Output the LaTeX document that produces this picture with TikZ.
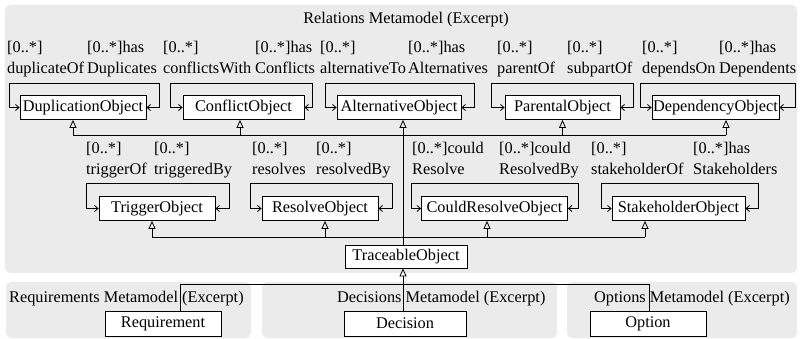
\documentclass[tikz,border=0pt]{standalone}
\usepackage{fontspec}
\setmainfont{Liberation Serif}
\usetikzlibrary{arrows.meta}
\definecolor{panel}{RGB}{235,235,235}
\begin{document}
\begin{tikzpicture}[x=1pt,y=-1pt,
  every node/.style={font=\fontsize{16.3}{20}\selectfont},
  cls/.style={draw, fill=white, line width=0.8pt, minimum height=24pt, inner sep=0pt},
  lbl/.style={anchor=base west, inner sep=0pt},
  panelbox/.style={fill=panel, rounded corners=5pt},
  selfloop/.style={line width=0.8pt, {Straight Barb[length=3.5pt,width=6pt]}-{Straight Barb[length=3.5pt,width=6pt]}},
  gen/.style={line width=0.8pt, -{Triangle[open,length=8pt,width=7pt]}},
  conn/.style={line width=0.8pt}]
\useasboundingbox (0,0) rectangle (801,339);
% panels
\fill[panelbox] (5,5) rectangle (797,273);
\fill[panelbox] (6,282) rectangle (251,338);
\fill[panelbox] (262,282) rectangle (557,338);
\fill[panelbox] (567,282) rectangle (797,338);
% titles
\node[anchor=base, inner sep=0pt] (title) at (406,24) {Relations Metamodel (Excerpt)};
\node[lbl] (reqt) at (9,302.5) {Requirements Metamodel (Excerpt)};
\node[lbl] (dect) at (337,302.5) {Decisions Metamodel (Excerpt)};
\node[lbl] (optt) at (594,302.5) {Options Metamodel (Excerpt)};
% row 1 classes
\node[cls, minimum width=126pt] (dup) at (83,107.5) {DuplicationObject};
\node[cls, minimum width=121pt] (con) at (243.5,107.5) {ConflictObject};
\node[cls, minimum width=124pt] (alt) at (399,107.5) {AlternativeObject};
\node[cls, minimum width=115pt] (par) at (562.5,107.5) {ParentalObject};
\node[cls, minimum width=127pt] (dep) at (715.5,107.5) {DependencyObject};
% row 2 classes
\node[cls, minimum width=116pt] (trig) at (157,208.5) {TriggerObject};
\node[cls, minimum width=116pt] (res) at (320,208.5) {ResolveObject};
\node[cls, minimum width=146pt] (could) at (494.5,208.5) {CouldResolveObject};
\node[cls, minimum width=133pt] (stake) at (678.5,208.5) {StakeholderObject};
% traceable
\node[cls, minimum width=122pt, minimum height=23pt] (trace) at (406,256.5) {TraceableObject};
% bottom classes
\node[cls, minimum width=116pt, minimum height=25pt] (req) at (163,323.5) {Requirement};
\node[cls, minimum width=122pt, minimum height=25pt] (dec) at (405,323.5) {Decision};
\node[cls, minimum width=116pt, minimum height=25pt] (opt) at (648,323.5) {Option};
% row 1 labels
\node[lbl] (l1a) at (7,53) {[0..*]};
\node[lbl] (l1b) at (7,73.5) {duplicateOf};
\node[lbl] (l2a) at (87,53) {[0..*]has};
\node[lbl] (l2b) at (87,73.5) {Duplicates};
\node[lbl] (l3a) at (163,53) {[0..*]};
\node[lbl] (l3b) at (163,73.5) {conflictsWith};
\node[lbl] (l4a) at (255,53) {[0..*]has};
\node[lbl] (l4b) at (255,73.5) {Conflicts};
\node[lbl] (l5a) at (320,53) {[0..*]};
\node[lbl] (l5b) at (320,73.5) {alternativeTo};
\node[lbl] (l6a) at (408,53) {[0..*]has};
\node[lbl] (l6b) at (408,73.5) {Alternatives};
\node[lbl] (l7a) at (497,53) {[0..*]};
\node[lbl] (l7b) at (497,73.5) {parentOf};
\node[lbl] (l8a) at (567,53) {[0..*]};
\node[lbl] (l8b) at (567,73.5) {subpartOf};
\node[lbl] (l9a) at (642,53) {[0..*]};
\node[lbl] (l9b) at (642,73.5) {dependsOn};
\node[lbl] (l10a) at (719,53) {[0..*]has};
\node[lbl] (l10b) at (719,73.5) {Dependents};
% row 2 labels
\node[lbl] (m1a) at (86,154) {[0..*]};
\node[lbl] (m1b) at (86,175) {triggerOf};
\node[lbl] (m2a) at (154,154) {[0..*]};
\node[lbl] (m2b) at (154,175) {triggeredBy};
\node[lbl] (m3a) at (252,154) {[0..*]};
\node[lbl] (m3b) at (252,175) {resolves};
\node[lbl] (m4a) at (316,154) {[0..*]};
\node[lbl] (m4b) at (316,175) {resolvedBy};
\node[lbl] (m5a) at (412,154) {[0..*]could};
\node[lbl] (m5b) at (412,175) {Resolve};
\node[lbl] (m6a) at (499,154) {[0..*]could};
\node[lbl] (m6b) at (499,175) {ResolvedBy};
\node[lbl] (m7a) at (591,154) {[0..*]};
\node[lbl] (m7b) at (591,175) {stakeholderOf};
\node[lbl] (m8a) at (693,154) {[0..*]has};
\node[lbl] (m8b) at (693,175) {Stakeholders};
% self loops row 1
\draw[selfloop] (dup.west) -- ++(-10,0) |- (159,83) |- (dup.east);
\draw[selfloop] (con.west) -- ++(-12,0) |- (312,83) |- (con.east);
\draw[selfloop] (alt.west) -- ++(-11,0) |- (474,83) |- (alt.east);
\draw[selfloop] (par.west) -- ++(-13,0) |- (633,83) |- (par.east);
\draw[selfloop] (dep.west) -- ++(-11,0) |- (795,83) |- (dep.east);
% self loops row 2
\draw[selfloop] (trig.west) -- ++(-12,0) |- (229,183) |- (trig.east);
\draw[selfloop] (res.west) -- ++(-11,0) |- (392,183) |- (res.east);
\draw[selfloop] (could.west) -- ++(-10,0) |- (578,183) |- (could.east);
\draw[selfloop] (stake.west) -- ++(-10,0) |- (758,183) |- (stake.east);
% generalisation anchor points
\coordinate (b1) at (0,135);
\coordinate (b2) at (0,237);
\coordinate (b3) at (0,284);
\coordinate (g-dup) at ([xshift=-10pt]dup.south);
\coordinate (g-con) at ([xshift=-3.5pt]con.south);
\coordinate (g-alt) at ([xshift=4pt]alt.south);
\coordinate (g-par) at (par.south);
\coordinate (g-dep) at ([xshift=10.5pt]dep.south);
\coordinate (g-trig) at ([xshift=-5pt]trig.south);
\coordinate (g-res) at ([xshift=5pt]res.south);
\coordinate (g-could) at ([xshift=-7.5pt]could.south);
\coordinate (g-stake) at ([xshift=-33.5pt]stake.south);
\coordinate (t-top) at ([xshift=-3pt]trace.north);
\coordinate (t-bot) at ([xshift=-3pt]trace.south);
\coordinate (r-top) at ([xshift=17pt]req.north);
\coordinate (d-top) at ([xshift=-2pt]dec.north);
\coordinate (o-top) at ([xshift=1pt]opt.north);
% row 1 inheritance
\draw[conn] (g-dup |- b1) -- (g-dep |- b1);
\draw[gen] (g-dup |- b1) -- (g-dup);
\draw[gen] (g-con |- b1) -- (g-con);
\draw[gen] (g-par |- b1) -- (g-par);
\draw[gen] (g-dep |- b1) -- (g-dep);
\draw[gen] (t-top) -- (g-alt);
% row 2 inheritance
\draw[conn] (g-trig |- b2) -- (g-stake |- b2);
\draw[gen] (g-trig |- b2) -- (g-trig);
\draw[gen] (g-res |- b2) -- (g-res);
\draw[gen] (g-could |- b2) -- (g-could);
\draw[gen] (g-stake |- b2) -- (g-stake);
% bottom inheritance
\draw[gen] (d-top) -- (t-bot);
\draw[conn] (r-top) |- (o-top |- b3) -- (o-top);
\end{tikzpicture}
\end{document}
